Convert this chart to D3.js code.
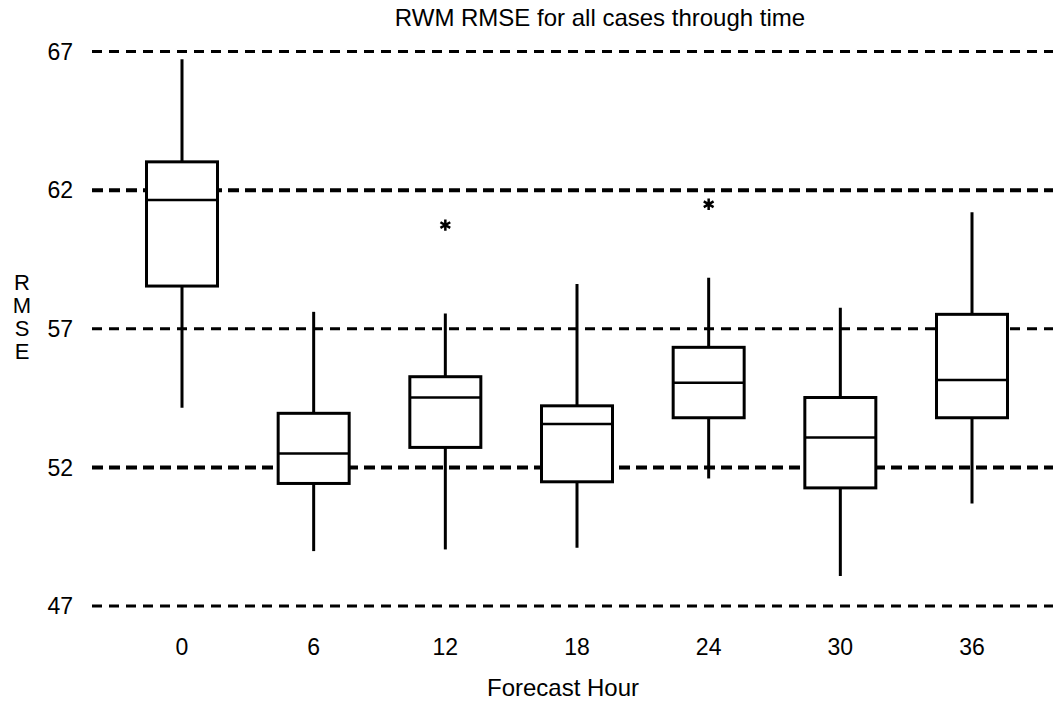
<!DOCTYPE html>
<html><head><meta charset="utf-8">
<script src="https://cdn.jsdelivr.net/npm/d3@7"></script>
<style>
html,body{margin:0;padding:0;background:#fff;}
svg{display:block;}
text{font-family:"Liberation Sans",Arial,sans-serif;fill:#000;}
</style></head>
<body>
<svg id="chart" width="1053" height="703"></svg>
<script>
const hours = [0, 6, 12, 18, 24, 30, 36];
const whiskerHigh = [66.72, 57.61, 57.55, 58.61, 58.84, 57.76, 61.2];
const q3 = [63.02, 53.95, 55.27, 54.22, 56.33, 54.52, 57.52];
const median = [61.64, 52.5, 54.52, 53.56, 55.05, 53.08, 55.15];
const q1 = [58.54, 51.42, 52.72, 51.48, 53.79, 51.26, 53.79];
const whiskerLow = [54.15, 48.98, 49.04, 49.1, 51.6, 48.08, 50.7];
const outlierHours = [12, 24];
const outlierValues = [60.74, 61.49];
const yTicks = [47, 52, 57, 62, 67];
const title = "RWM RMSE for all cases through time";
const xTitle = "Forecast Hour";
const yTitle = ["R", "M", "S", "E"];

const svg = d3.select("#chart");
const x = d3.scaleLinear().domain([0, 36]).range([182, 972]);
const y = d3.scaleLinear().domain([47, 67]).range([606, 51.5]);
const boxW = 71;

// gridlines
const grid = svg.append("g");
grid.selectAll("line").data(yTicks).enter().append("line")
  .attr("x1", 92).attr("x2", 1053)
  .attr("y1", d => y(d)).attr("y2", d => y(d))
  .attr("stroke", "#000")
  .attr("stroke-width", d => (d === 62 || d === 52) ? 4 : 3)
  .attr("stroke-dasharray", d => (d === 62 || d === 52) ? "11,6" : "10,7");

// y tick labels
svg.append("g").selectAll("text").data(yTicks).enter().append("text")
  .attr("x", 73).attr("y", d => y(d)).attr("dy", "0.36em")
  .attr("text-anchor", "end").attr("font-size", 23)
  .text(d => d);

const data = hours.map((h, i) => ({h, lo: whiskerLow[i], q1: q1[i], med: median[i], q3: q3[i], hi: whiskerHigh[i]}));

const boxes = svg.append("g").selectAll("g").data(data).enter().append("g");
boxes.append("line")
  .attr("x1", d => x(d.h)).attr("x2", d => x(d.h))
  .attr("y1", d => y(d.hi)).attr("y2", d => y(d.lo))
  .attr("stroke", "#000").attr("stroke-width", 3);
boxes.append("rect")
  .attr("x", d => x(d.h) - boxW / 2).attr("width", boxW)
  .attr("y", d => y(d.q3)).attr("height", d => y(d.q1) - y(d.q3))
  .attr("fill", "#fff").attr("stroke", "#000").attr("stroke-width", 3);
boxes.append("line")
  .attr("x1", d => x(d.h) - boxW / 2).attr("x2", d => x(d.h) + boxW / 2)
  .attr("y1", d => y(d.med)).attr("y2", d => y(d.med))
  .attr("stroke", "#000").attr("stroke-width", 2.5);

// outliers
const star = d3.symbol().type(d3.symbolAsterisk).size(90);
svg.append("g").selectAll("path").data(outlierHours.map((h, i) => ({h, v: outlierValues[i]}))).enter()
  .append("path")
  .attr("transform", d => `translate(${x(d.h)},${y(d.v)})`)
  .attr("d", star)
  .attr("fill", "none").attr("stroke", "#000").attr("stroke-width", 2.5);

// x tick labels
svg.append("g").selectAll("text").data(hours).enter().append("text")
  .attr("x", d => x(d)).attr("y", 655)
  .attr("text-anchor", "middle").attr("font-size", 23)
  .text(d => d);

// titles
svg.append("text").attr("x", 600).attr("y", 26).attr("text-anchor", "middle")
  .attr("font-size", 24).text(title);
svg.append("text").attr("x", 563).attr("y", 696).attr("text-anchor", "middle")
  .attr("font-size", 24).text(xTitle);
svg.append("g").selectAll("text").data(yTitle).enter().append("text")
  .attr("x", 22).attr("y", (d, i) => 290 + i * 23).attr("text-anchor", "middle")
  .attr("font-size", 22).text(d => d);
</script>
</body></html>
